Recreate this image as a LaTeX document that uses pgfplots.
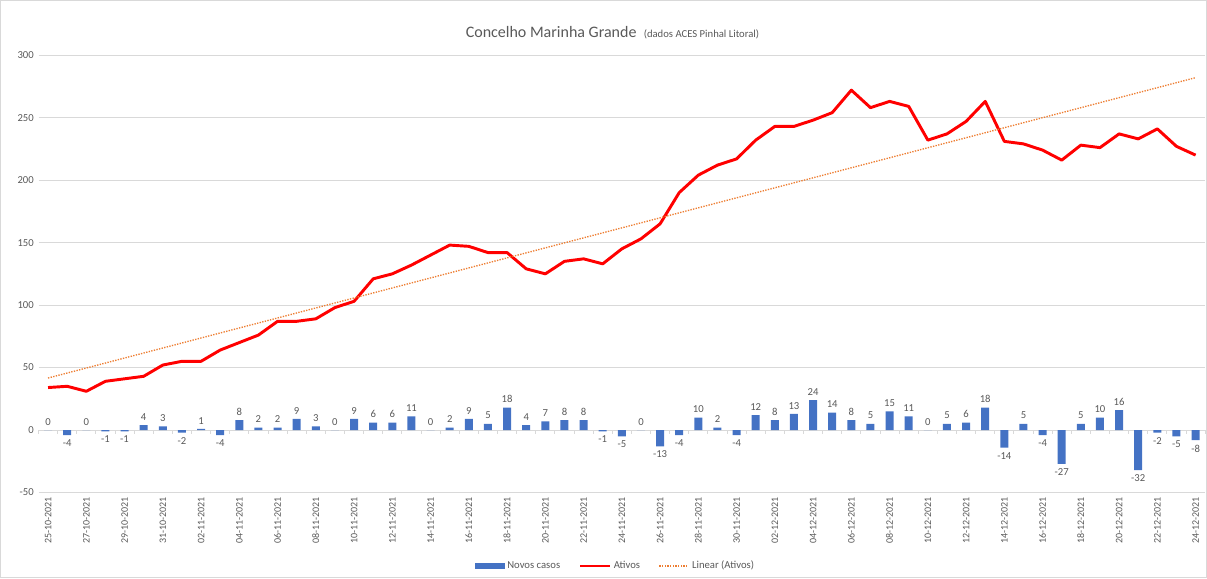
\documentclass[border=0pt]{standalone}
\usepackage{fontspec}
\setmainfont{Carlito}
\usepackage{pgfplots}
\usepackage{pgfplotstable}
\pgfplotsset{compat=1.18}
\definecolor{barblue}{HTML}{4472C4}
\definecolor{trendor}{HTML}{ED7D31}
\definecolor{txtgray}{HTML}{595959}
\definecolor{gridgray}{HTML}{D9D9D9}

\pgfplotstableread{
x novos ativos
0 0 34
1 -4 35
2 0 31
3 -1 39
4 -1 41
5 4 43
6 3 52
7 -2 55
8 1 55
9 -4 64
10 8 70
11 2 76
12 2 87
13 9 87
14 3 89
15 0 98
16 9 103
17 6 121
18 6 125
19 11 132
20 0 140
21 2 148
22 9 147
23 5 142
24 18 142
25 4 129
26 7 125
27 8 135
28 8 137
29 -1 133
30 -5 145
31 0 153
32 -13 165
33 -4 190
34 10 204
35 2 212
36 -4 217
37 12 232
38 8 243
39 13 243
40 24 248
41 14 254
42 8 272
43 5 258
44 15 263
45 11 259
46 0 232
47 5 237
48 6 247
49 18 263
50 -14 231
51 5 229
52 -4 224
53 -27 216
54 5 228
55 10 226
56 16 237
57 -32 233
58 -2 241
59 -5 227
60 -8 220
}\datatable

\begin{document}
\begin{tikzpicture}
\begin{axis}[
  scale only axis,
  width=875pt, height=328pt,
  xmin=-0.5, xmax=60.5, ymin=-50, ymax=300,
  ytick={-50,0,50,100,150,200,250,300},
  xtick={0,2,...,60},
  xticklabels={25-10-2021,27-10-2021,29-10-2021,31-10-2021,02-11-2021,04-11-2021,06-11-2021,08-11-2021,10-11-2021,12-11-2021,14-11-2021,16-11-2021,18-11-2021,20-11-2021,22-11-2021,24-11-2021,26-11-2021,28-11-2021,30-11-2021,02-12-2021,04-12-2021,06-12-2021,08-12-2021,10-12-2021,12-12-2021,14-12-2021,16-12-2021,18-12-2021,20-12-2021,22-12-2021,24-12-2021},
  x tick label style={rotate=90, anchor=east, font=\fontsize{7.5}{8}\selectfont, text=txtgray},
  y tick label style={font=\fontsize{8}{9}\selectfont, text=txtgray},
  /pgf/number format/assume math mode=true,
  ymajorgrids,
  grid style={gridgray, line width=0.75pt},
  axis line style={draw=none},
  major tick length=0pt,
  tick style={draw=none},
  clip=false,
  legend columns=-1,
  legend style={at={(0.495,-0.168)}, anchor=center, draw=none, fill=none,
    font=\fontsize{8}{9}\selectfont, text=txtgray,
    /tikz/every even column/.append style={column sep=12pt},
    /tikz/every odd column/.append style={column sep=0pt}},
]
\pgfplotsinvokeforeach{-0.5,0.5,...,60.5}{
  \draw[gridgray, line width=0.75pt] (axis cs:#1,0) -- ([yshift=-3pt]axis cs:#1,0);
}
\addplot[ybar, bar width=6pt, fill=barblue, draw=none,
  nodes near coords, nodes near coords align={vertical},
  nodes near coords style={font=\fontsize{8}{9}\selectfont, text=txtgray, /pgf/number format/assume math mode=true},
  legend image code/.code={\fill[barblue] (0pt,-2.2pt) rectangle (22pt,2.2pt);}]
  table[x=x, y=novos] {\datatable};
\addlegendentry{Novos casos}
\addplot[red, line width=2.2pt, line join=round, mark=none,
  legend image code/.code={\draw[red, line width=2.2pt] (0pt,0pt) -- (22pt,0pt);}]
  table[x=x, y=ativos] {\datatable};
\addlegendentry{Ativos}
\addplot[trendor, line width=1pt, dash pattern=on 1pt off 1pt, mark=none,
  legend image code/.code={\draw[trendor, line width=1pt, dash pattern=on 1pt off 1pt] (0pt,0pt) -- (22pt,0pt);}]
  coordinates {(0,41.6) (60,282)};
\addlegendentry{Linear (Ativos)}
\end{axis}
\node[text=txtgray, anchor=base] at ([xshift=-7pt, yshift=13.5pt]current axis.north)
  {\fontsize{12}{14}\selectfont Concelho Marinha Grande\ \ {\fontsize{8}{9}\selectfont (dados ACES Pinhal Litoral)}};
\draw[gridgray, line width=0.75pt] ([xshift=-28.5pt,yshift=-64pt]current axis.south west) rectangle ([xshift=1pt,yshift=41pt]current axis.north east);
\end{tikzpicture}
\end{document}
